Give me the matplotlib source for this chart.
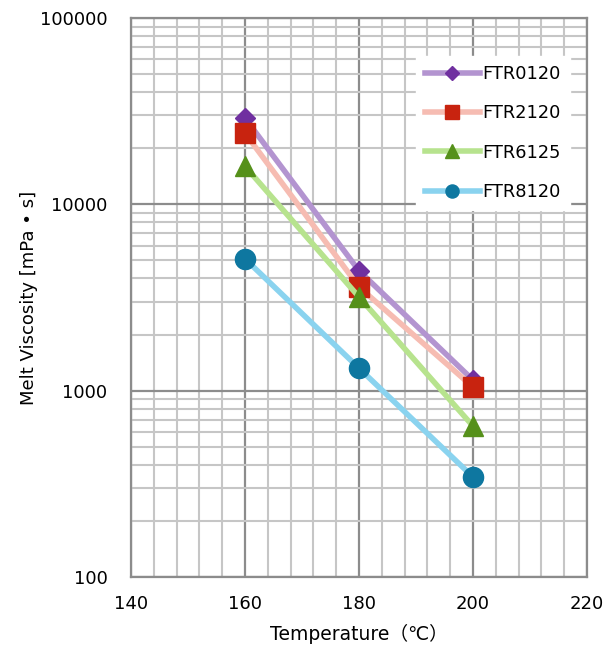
import numpy as np
import matplotlib.pyplot as plt
from matplotlib.ticker import MultipleLocator, LogLocator, NullFormatter

# Данные
temps = [160, 180, 200]
names = ['FTR0120', 'FTR2120', 'FTR6125', 'FTR8120']
visc_0120 = [29000, 4400, 1140]
visc_2120 = [24100, 3600, 1045]
visc_6125 = [16000, 3180, 645]
visc_8120 = [5100, 1320, 344]

line_colors = ['#b394d0', '#f6bcb2', '#b7e38e', '#8ad3ef']
marker_colors = ['#7030a0', '#c8230f', '#55901a', '#0e77a0']
markers = ['D', 's', '^', 'o']
msizes = [10.5, 14.5, 14.5, 14.5]

fig = plt.figure(figsize=(6.16, 6.5), dpi=100)
ax = fig.add_axes([0.2127, 0.1123, 0.7403, 0.86])

series = [visc_0120, visc_2120, visc_6125, visc_8120]
for vals, name, lc, mc, mk, ms in zip(series, names, line_colors, marker_colors, markers, msizes):
    ax.plot(temps, vals, color=lc, lw=4, marker=mk, ms=ms,
            markerfacecolor=mc, markeredgecolor=mc, label=name, zorder=3)

ax.set_yscale('log')
ax.set_xlim(140, 220)
ax.set_ylim(100, 100000)
ax.xaxis.set_major_locator(MultipleLocator(20))
ax.xaxis.set_minor_locator(MultipleLocator(4))
ax.yaxis.set_major_locator(LogLocator(base=10))
ax.yaxis.set_minor_locator(LogLocator(base=10, subs=np.arange(2, 10)))
ax.yaxis.set_minor_formatter(NullFormatter())
ax.set_yticks([100, 1000, 10000, 100000])
ax.set_yticklabels(['100', '1000', '10000', '100000'])

ax.grid(True, which='major', color='#8c8c8c', lw=1.6, zorder=0)
ax.grid(True, which='minor', color='#c6c6c6', lw=1.5, zorder=0)
ax.set_axisbelow(True)
for s in ax.spines.values():
    s.set_color('#8c8c8c')
    s.set_linewidth(1.6)
ax.tick_params(which='both', length=0, labelsize=13)
ax.tick_params(axis='y', pad=17)
ax.tick_params(axis='x', pad=13)

ax.set_xlabel('Temperature（℃）', fontsize=13.5, family=['DejaVu Sans', 'Noto Sans CJK JP'], labelpad=8)
ax.set_ylabel('Melt Viscosity [mPa • s]', fontsize=13, labelpad=1)

leg = ax.legend(loc='upper right', bbox_to_anchor=(0.982, 0.948), fontsize=12.8,
                frameon=True, fancybox=False, edgecolor='white', framealpha=1,
                handlelength=3.1, handletextpad=0.15, labelspacing=1.2, borderpad=0.5,
                markerscale=0.65)

fig.savefig('out.png', dpi=100)
